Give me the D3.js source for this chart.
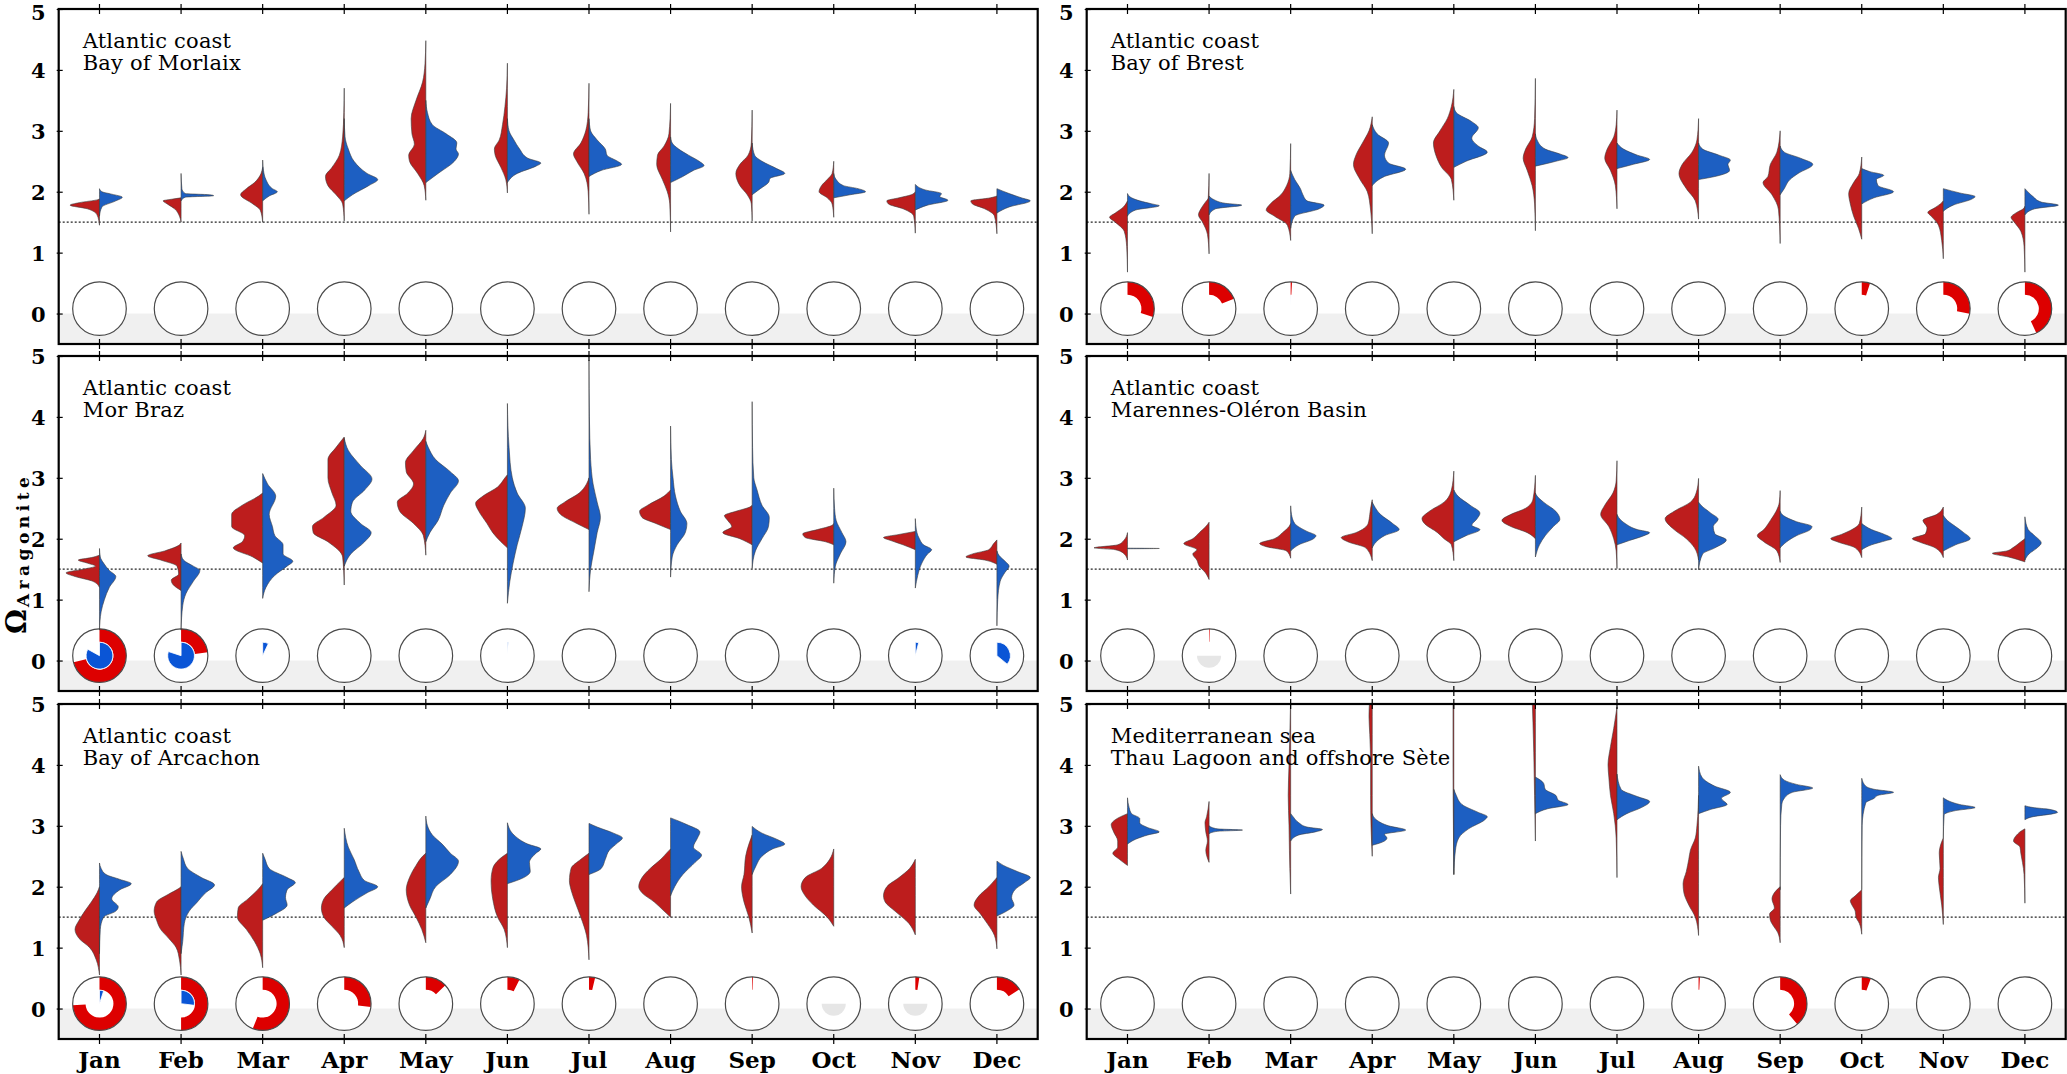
<!DOCTYPE html>
<html>
<head>
<meta charset="utf-8">
<script src="https://cdn.jsdelivr.net/npm/d3@7"></script>
<style>
  body { margin: 0; background: #fff; }
  text { font-family: "DejaVu Serif", serif; }
</style>
</head>
<body>
<svg id="chart" width="2067" height="1074"></svg>
<script>
var months = ["Jan","Feb","Mar","Apr","May","Jun","Jul","Aug","Sep","Oct","Nov","Dec"];
var yTicks = [0, 1, 2, 3, 4, 5];
var threshold = 1.5;

// half violins: [omega, half width in month units] knots
var morlaixRed = [
  [[1.45,0],[1.62,0.03],[1.72,0.15],[1.78,0.36],[1.82,0.25],[1.87,0.02],[1.88,0]],
  [[1.5,0],[1.6,0.02],[1.72,0.08],[1.8,0.17],[1.85,0.22],[1.88,0.1],[1.9,0]],
  [[1.5,0],[1.7,0.03],[1.8,0.12],[1.95,0.27],[2.05,0.2],[2.15,0.1],[2.3,0.02],[2.4,0]],
  [[1.52,0],[1.8,0.02],[1.95,0.1],[2.1,0.2],[2.25,0.23],[2.4,0.15],[2.6,0.06],[2.9,0.02],[3.3,0.005],[3.7,0]],
  [[1.86,0],[2.1,0.02],[2.3,0.1],[2.5,0.2],[2.6,0.21],[2.78,0.14],[2.95,0.17],[3.2,0.18],[3.5,0.12],[3.8,0.04],[4.1,0.01],[4.48,0]],
  [[1.98,0],[2.2,0.02],[2.4,0.08],[2.6,0.15],[2.7,0.16],[2.85,0.1],[3.1,0.06],[3.4,0.03],[3.7,0.01],[4.11,0]],
  [[1.63,0],[2.0,0.01],[2.3,0.06],[2.5,0.15],[2.62,0.19],[2.8,0.1],[3.0,0.04],[3.3,0.01],[3.78,0]],
  [[1.34,0],[1.8,0.01],[2.0,0.04],[2.2,0.1],[2.45,0.17],[2.6,0.16],[2.75,0.08],[2.95,0.02],[3.45,0]],
  [[1.52,0],[1.8,0.01],[1.95,0.06],[2.1,0.15],[2.3,0.2],[2.45,0.15],[2.6,0.05],[2.8,0.01],[3.34,0]],
  [[1.58,0],[1.8,0.02],[1.9,0.08],[2.0,0.18],[2.1,0.15],[2.2,0.08],[2.3,0.02],[2.5,0]],
  [[1.32,0],[1.6,0.02],[1.72,0.15],[1.8,0.33],[1.85,0.35],[1.9,0.2],[1.95,0.05],[2.0,0]],
  [[1.31,0],[1.6,0.03],[1.72,0.15],[1.8,0.3],[1.85,0.32],[1.9,0.08],[1.93,0]]
];
var morlaixBlue = [
  [[1.6,0],[1.75,0.03],[1.85,0.2],[1.91,0.28],[1.96,0.15],[2.0,0.03],[2.05,0]],
  [[1.85,0],[1.91,0.05],[1.935,0.4],[1.95,0.35],[1.97,0.05],[2.05,0.01],[2.3,0]],
  [[1.85,0],[1.93,0.08],[2.0,0.18],[2.05,0.12],[2.2,0.04],[2.35,0.01],[2.52,0]],
  [[1.85,0],[1.95,0.1],[2.1,0.3],[2.2,0.41],[2.3,0.28],[2.5,0.12],[2.7,0.05],[2.9,0.01],[3.2,0]],
  [[2.15,0],[2.3,0.15],[2.5,0.35],[2.62,0.4],[2.7,0.37],[2.8,0.38],[2.95,0.25],[3.1,0.08],[3.3,0.02],[3.5,0]],
  [[2.15,0],[2.3,0.12],[2.42,0.35],[2.47,0.41],[2.55,0.25],[2.7,0.15],[2.85,0.08],[3.0,0.02],[3.2,0]],
  [[2.25,0],[2.35,0.15],[2.45,0.4],[2.5,0.35],[2.6,0.22],[2.7,0.2],[2.85,0.1],[3.0,0.02],[3.2,0]],
  [[2.15,0],[2.25,0.15],[2.35,0.28],[2.43,0.41],[2.5,0.35],[2.6,0.22],[2.7,0.1],[2.8,0.02],[2.9,0]],
  [[1.95,0],[2.05,0.1],[2.15,0.2],[2.22,0.22],[2.3,0.4],[2.38,0.3],[2.5,0.12],[2.6,0.03],[2.8,0]],
  [[1.9,0],[1.95,0.2],[2.0,0.39],[2.05,0.3],[2.1,0.12],[2.2,0.03],[2.3,0]],
  [[1.7,0],[1.78,0.15],[1.86,0.4],[1.92,0.3],[1.97,0.32],[2.03,0.12],[2.12,0]],
  [[1.65,0],[1.75,0.15],[1.85,0.41],[1.9,0.3],[1.97,0.15],[2.05,0]]
];

var brestRed = [
  [[0.68,0],[1.1,0.01],[1.35,0.04],[1.5,0.15],[1.58,0.22],[1.65,0.15],[1.75,0.05],[1.85,0]],
  [[0.98,0],[1.3,0.02],[1.5,0.08],[1.62,0.13],[1.72,0.1],[1.82,0.05],[1.9,0.01],[2.3,0]],
  [[1.2,0],[1.45,0.04],[1.6,0.2],[1.7,0.3],[1.8,0.25],[1.95,0.12],[2.1,0.05],[2.3,0.01],[2.79,0]],
  [[1.31,0],[1.7,0.02],[2.0,0.06],[2.2,0.15],[2.45,0.23],[2.6,0.2],[2.8,0.12],[3.0,0.04],[3.23,0]],
  [[1.86,0],[2.2,0.03],[2.4,0.15],[2.6,0.22],[2.8,0.25],[3.0,0.17],[3.2,0.08],[3.4,0.03],[3.68,0]],
  [[1.36,0],[1.8,0.01],[2.1,0.04],[2.35,0.1],[2.55,0.15],[2.7,0.12],[2.9,0.04],[3.2,0.01],[3.86,0]],
  [[1.72,0],[2.1,0.02],[2.35,0.08],[2.55,0.15],[2.7,0.12],[2.9,0.04],[3.1,0.01],[3.34,0]],
  [[1.55,0],[1.85,0.04],[2.05,0.15],[2.3,0.24],[2.45,0.2],[2.65,0.08],[2.85,0.02],[3.2,0]],
  [[1.15,0],[1.7,0.02],[1.95,0.1],[2.15,0.21],[2.25,0.15],[2.45,0.12],[2.65,0.04],[3.0,0]],
  [[1.22,0],[1.4,0.04],[1.6,0.1],[1.8,0.14],[1.97,0.16],[2.15,0.1],[2.3,0.03],[2.57,0]],
  [[0.9,0],[1.2,0.02],[1.45,0.06],[1.6,0.15],[1.66,0.19],[1.74,0.1],[1.82,0.02],[1.85,0]],
  [[0.68,0],[1.1,0.01],[1.35,0.05],[1.5,0.13],[1.58,0.17],[1.66,0.1],[1.72,0.02],[1.76,0]]
];
var brestBlue = [
  [[1.6,0],[1.7,0.1],[1.77,0.39],[1.8,0.3],[1.85,0.15],[1.9,0.05],[1.97,0]],
  [[1.62,0],[1.72,0.08],[1.78,0.4],[1.81,0.2],[1.87,0.06],[1.93,0]],
  [[1.4,0],[1.6,0.05],[1.72,0.35],[1.78,0.41],[1.85,0.2],[1.95,0.15],[2.05,0.12],[2.2,0.05],[2.35,0]],
  [[2.1,0],[2.25,0.15],[2.37,0.41],[2.47,0.2],[2.6,0.15],[2.8,0.2],[2.95,0.06],[3.1,0]],
  [[2.4,0],[2.5,0.15],[2.65,0.41],[2.75,0.3],[2.88,0.22],[3.05,0.3],[3.15,0.22],[3.3,0.03],[3.4,0]],
  [[2.42,0],[2.5,0.25],[2.56,0.4],[2.62,0.3],[2.7,0.12],[2.85,0.02],[2.95,0]],
  [[2.38,0],[2.45,0.2],[2.53,0.4],[2.6,0.25],[2.7,0.08],[2.8,0]],
  [[2.2,0],[2.25,0.2],[2.35,0.38],[2.45,0.36],[2.52,0.39],[2.6,0.25],[2.7,0.05],[2.8,0]],
  [[1.95,0],[2.05,0.05],[2.2,0.12],[2.3,0.22],[2.45,0.4],[2.55,0.25],[2.65,0.05],[2.75,0]],
  [[1.8,0],[1.9,0.15],[2.0,0.39],[2.1,0.2],[2.2,0.18],[2.27,0.27],[2.33,0.1],[2.38,0]],
  [[1.68,0],[1.78,0.12],[1.88,0.35],[1.92,0.39],[1.98,0.2],[2.05,0]],
  [[1.62,0],[1.72,0.12],[1.78,0.41],[1.83,0.2],[1.92,0.1],[1.98,0.05],[2.05,0]]
];

var morbrazRed = [
  [[1.2,0],[1.3,0.08],[1.38,0.3],[1.44,0.41],[1.5,0.2],[1.55,0.05],[1.6,0.15],[1.65,0.26],[1.69,0.1],[1.73,0]],
  [[1.15,0],[1.25,0.1],[1.32,0.12],[1.42,0.03],[1.55,0.05],[1.65,0.25],[1.72,0.41],[1.8,0.2],[1.9,0.02],[1.93,0]],
  [[1.6,0],[1.7,0.12],[1.85,0.36],[1.95,0.25],[2.05,0.22],[2.2,0.38],[2.4,0.38],[2.55,0.25],[2.7,0.05],[2.75,0]],
  [[1.24,0],[1.7,0.02],[1.95,0.2],[2.1,0.38],[2.2,0.39],[2.35,0.25],[2.55,0.1],[2.75,0.15],[3.0,0.2],[3.3,0.2],[3.5,0.1],[3.67,0]],
  [[1.73,0],[2.05,0.03],[2.25,0.15],[2.45,0.32],[2.6,0.35],[2.75,0.22],[2.9,0.15],[3.1,0.24],[3.25,0.25],[3.45,0.15],[3.65,0.03],[3.78,0]],
  [[1.85,0],[1.95,0.08],[2.1,0.18],[2.25,0.25],[2.45,0.35],[2.58,0.39],[2.7,0.3],[2.85,0.12],[3.0,0.03],[3.05,0]],
  [[2.15,0],[2.25,0.15],[2.4,0.35],[2.5,0.39],[2.6,0.3],[2.75,0.12],[2.9,0.03],[3.0,0]],
  [[2.15,0],[2.25,0.18],[2.35,0.35],[2.45,0.38],[2.55,0.28],[2.7,0.08],[2.8,0]],
  [[1.9,0],[2.0,0.15],[2.1,0.36],[2.2,0.25],[2.3,0.3],[2.38,0.34],[2.45,0.2],[2.52,0.03],[2.55,0]],
  [[1.9,0],[1.95,0.1],[2.02,0.35],[2.08,0.38],[2.15,0.2],[2.22,0.02],[2.25,0]],
  [[1.82,0],[1.9,0.15],[1.97,0.3],[2.02,0.39],[2.07,0.2],[2.12,0]],
  [[1.58,0],[1.65,0.15],[1.7,0.38],[1.75,0.3],[1.82,0.1],[1.92,0.04],[1.98,0]]
];
var morbrazBlue = [
  [[0.5,0],[0.8,0.02],[1.0,0.06],[1.2,0.12],[1.38,0.2],[1.48,0.12],[1.6,0.05],[1.7,0.01],[1.84,0]],
  [[0.5,0],[0.9,0.02],[1.1,0.06],[1.3,0.15],[1.48,0.23],[1.55,0.15],[1.65,0.03],[1.75,0]],
  [[1.02,0],[1.2,0.04],[1.4,0.15],[1.55,0.3],[1.63,0.37],[1.75,0.25],[1.9,0.25],[2.05,0.15],[2.2,0.12],[2.4,0.08],[2.7,0.16],[2.9,0.06],[3.07,0]],
  [[1.55,0],[1.75,0.08],[1.95,0.25],[2.1,0.33],[2.25,0.2],[2.45,0.08],[2.6,0.1],[2.8,0.25],[2.98,0.34],[3.2,0.2],[3.45,0.05],[3.65,0]],
  [[1.95,0],[2.1,0.05],[2.3,0.15],[2.55,0.22],[2.75,0.3],[2.95,0.4],[3.1,0.3],[3.3,0.12],[3.5,0.03],[3.6,0]],
  [[0.94,0],[1.3,0.03],[1.6,0.07],[1.9,0.12],[2.2,0.18],[2.5,0.22],[2.75,0.12],[3.0,0.06],[3.5,0.02],[4.22,0]],
  [[1.13,0],[1.5,0.02],[1.8,0.06],[2.1,0.1],[2.35,0.14],[2.6,0.1],[2.9,0.05],[3.3,0.02],[4.0,0.005],[4.93,0]],
  [[1.37,0],[1.7,0.02],[1.9,0.08],[2.1,0.18],[2.25,0.2],[2.45,0.12],[2.7,0.06],[3.0,0.03],[3.3,0.01],[3.85,0]],
  [[1.51,0],[1.8,0.04],[2.0,0.12],[2.2,0.2],[2.35,0.21],[2.55,0.12],[2.8,0.06],[3.0,0.02],[3.5,0.005],[4.25,0]],
  [[1.27,0],[1.55,0.02],[1.75,0.08],[1.95,0.15],[2.1,0.1],[2.3,0.03],[2.5,0.01],[2.83,0]],
  [[1.19,0],[1.4,0.03],[1.6,0.08],[1.75,0.15],[1.82,0.2],[1.9,0.1],[2.0,0.05],[2.1,0.02],[2.33,0]],
  [[0.57,0],[1.0,0.01],[1.3,0.04],[1.45,0.1],[1.55,0.15],[1.63,0.1],[1.72,0.03],[1.8,0]]
];

var marennesRed = [
  [[1.65,0],[1.75,0.04],[1.82,0.15],[1.85,0.41],[1.9,0.12],[1.98,0.04],[2.1,0]],
  [[1.33,0],[1.45,0.05],[1.55,0.12],[1.65,0.15],[1.75,0.2],[1.82,0.15],[1.92,0.31],[2.0,0.2],[2.1,0.12],[2.2,0.04],[2.27,0]],
  [[1.68,0],[1.8,0.05],[1.87,0.3],[1.92,0.38],[2.0,0.2],[2.1,0.1],[2.2,0.02],[2.25,0]],
  [[1.64,0],[1.85,0.08],[1.95,0.3],[2.02,0.38],[2.1,0.2],[2.25,0.05],[2.4,0.03],[2.5,0.02],[2.64,0]],
  [[1.64,0],[1.9,0.03],[2.0,0.12],[2.1,0.2],[2.25,0.36],[2.33,0.39],[2.45,0.3],[2.6,0.12],[2.8,0.03],[3.11,0]],
  [[2.0,0],[2.1,0.1],[2.2,0.3],[2.3,0.41],[2.4,0.3],[2.5,0.12],[2.65,0.03],[3.04,0]],
  [[1.51,0],[1.8,0.01],[2.0,0.04],[2.2,0.1],[2.4,0.2],[2.55,0.15],[2.75,0.05],[2.95,0.01],[3.28,0]],
  [[1.65,0],[1.85,0.05],[2.0,0.15],[2.15,0.3],[2.33,0.41],[2.45,0.3],[2.6,0.1],[2.75,0.03],[2.99,0]],
  [[1.61,0],[1.8,0.04],[1.95,0.2],[2.05,0.28],[2.15,0.2],[2.3,0.12],[2.45,0.05],[2.6,0.01],[2.79,0]],
  [[1.69,0],[1.85,0.08],[1.95,0.3],[2.0,0.38],[2.07,0.25],[2.15,0.12],[2.25,0.03],[2.52,0]],
  [[1.69,0],[1.85,0.1],[1.95,0.3],[2.0,0.38],[2.08,0.22],[2.18,0.2],[2.3,0.25],[2.4,0.08],[2.52,0]],
  [[1.62,0],[1.7,0.2],[1.76,0.4],[1.8,0.22],[1.85,0.15],[1.95,0.05],[2.0,0]]
];
var marennesBlue = [
  [[1.835,0],[1.84,0.39],[1.845,0]],
  [],
  [[1.8,0],[1.9,0.1],[2.0,0.28],[2.05,0.31],[2.12,0.2],[2.25,0.05],[2.4,0.01],[2.54,0]],
  [[1.85,0],[1.95,0.05],[2.05,0.15],[2.15,0.33],[2.25,0.25],[2.4,0.1],[2.55,0.02],[2.6,0]],
  [[1.95,0],[2.05,0.15],[2.15,0.32],[2.22,0.22],[2.32,0.28],[2.42,0.32],[2.55,0.2],[2.7,0.05],[2.8,0]],
  [[1.7,0],[1.9,0.05],[2.05,0.12],[2.2,0.22],[2.32,0.3],[2.45,0.25],[2.6,0.1],[2.7,0.02],[2.75,0]],
  [[1.9,0],[1.97,0.15],[2.05,0.33],[2.1,0.4],[2.15,0.25],[2.25,0.1],[2.35,0.02],[2.4,0]],
  [[1.49,0],[1.75,0.05],[1.85,0.2],[1.98,0.34],[2.08,0.2],[2.2,0.18],[2.32,0.24],[2.42,0.15],[2.55,0.03],[2.6,0]],
  [[1.85,0],[1.95,0.08],[2.05,0.2],[2.15,0.37],[2.2,0.39],[2.28,0.2],[2.38,0.04],[2.45,0]],
  [[1.82,0],[1.9,0.12],[1.97,0.3],[2.0,0.37],[2.07,0.28],[2.15,0.12],[2.25,0]],
  [[1.8,0],[1.9,0.15],[2.0,0.33],[2.1,0.25],[2.2,0.15],[2.3,0.05],[2.38,0]],
  [[1.65,0],[1.75,0.05],[1.85,0.15],[1.93,0.2],[2.05,0.12],[2.15,0.04],[2.36,0]]
];

var arcachonRed = [
  [[0.55,0],[0.8,0.04],[1.0,0.12],[1.15,0.25],[1.3,0.3],[1.45,0.25],[1.6,0.18],[1.75,0.1],[1.9,0.03],[2.0,0]],
  [[0.55,0],[0.8,0.02],[1.0,0.06],[1.15,0.15],[1.3,0.25],[1.45,0.3],[1.6,0.33],[1.75,0.3],[1.88,0.15],[1.97,0.03],[2.0,0]],
  [[0.67,0],[0.9,0.03],[1.1,0.1],[1.3,0.2],[1.5,0.31],[1.65,0.3],[1.8,0.18],[1.95,0.06],[2.05,0]],
  [[1.0,0],[1.2,0.05],[1.35,0.15],[1.5,0.25],[1.65,0.28],[1.8,0.25],[1.95,0.15],[2.1,0.04],[2.15,0]],
  [[1.08,0],[1.3,0.05],[1.5,0.12],[1.7,0.2],[1.95,0.24],[2.15,0.2],[2.35,0.12],[2.5,0.04],[2.55,0]],
  [[1.0,0],[1.3,0.04],[1.5,0.12],[1.8,0.18],[2.1,0.2],[2.3,0.18],[2.45,0.1],[2.55,0]],
  [[0.8,0],[1.2,0.03],[1.5,0.1],[1.75,0.17],[1.95,0.22],[2.1,0.24],[2.3,0.22],[2.45,0.1],[2.55,0]],
  [[1.5,0],[1.6,0.08],[1.75,0.2],[1.9,0.35],[2.0,0.39],[2.15,0.35],[2.3,0.25],[2.45,0.12],[2.58,0.03],[2.62,0]],
  [[1.24,0],[1.5,0.04],[1.75,0.1],[2.0,0.13],[2.2,0.1],[2.5,0.08],[2.7,0.04],[2.85,0]],
  [[1.35,0],[1.5,0.08],[1.7,0.25],[1.85,0.35],[2.0,0.4],[2.15,0.35],[2.3,0.15],[2.45,0.05],[2.62,0]],
  [[1.21,0],[1.4,0.08],[1.6,0.25],[1.75,0.37],[1.85,0.39],[2.0,0.35],[2.15,0.2],[2.3,0.07],[2.45,0]],
  [[0.98,0],[1.2,0.03],[1.4,0.12],[1.55,0.2],[1.7,0.28],[1.85,0.22],[2.0,0.1],[2.12,0.02],[2.15,0]]
];
var arcachonBlue = [
  [[0.9,0],[1.3,0.01],[1.5,0.05],[1.6,0.2],[1.67,0.23],[1.8,0.15],[1.95,0.25],[2.05,0.39],[2.12,0.25],[2.2,0.08],[2.3,0.02],[2.39,0]],
  [[0.9,0],[1.1,0.02],[1.4,0.04],[1.6,0.1],[1.75,0.2],[1.9,0.3],[2.03,0.41],[2.15,0.25],[2.3,0.08],[2.45,0.03],[2.58,0]],
  [[1.45,0],[1.55,0.15],[1.7,0.3],[1.82,0.28],[1.95,0.3],[2.07,0.4],[2.15,0.3],[2.3,0.08],[2.45,0.03],[2.55,0]],
  [[1.65,0],[1.75,0.1],[1.9,0.28],[2.0,0.41],[2.1,0.25],[2.25,0.18],[2.45,0.12],[2.65,0.05],[2.96,0]],
  [[1.65,0],[1.8,0.05],[2.0,0.12],[2.2,0.3],[2.42,0.4],[2.55,0.3],[2.7,0.2],[2.85,0.08],[3.0,0.02],[3.16,0]],
  [[2.05,0],[2.15,0.2],[2.25,0.28],[2.4,0.27],[2.55,0.35],[2.62,0.41],[2.7,0.25],[2.85,0.08],[3.05,0]],
  [[2.2,0],[2.3,0.15],[2.45,0.2],[2.6,0.25],[2.72,0.35],[2.8,0.41],[2.88,0.3],[2.98,0.1],[3.04,0]],
  [[1.85,0],[2.0,0.05],[2.2,0.15],[2.4,0.3],[2.52,0.38],[2.65,0.28],[2.8,0.33],[2.9,0.36],[3.02,0.2],[3.13,0]],
  [[2.2,0],[2.35,0.05],[2.5,0.12],[2.62,0.25],[2.7,0.4],[2.78,0.3],[2.88,0.12],[2.99,0]],
  [],
  [],
  [[1.52,0],[1.6,0.12],[1.7,0.21],[1.82,0.18],[1.95,0.22],[2.08,0.35],[2.15,0.41],[2.25,0.25],[2.35,0.08],[2.42,0]]
];

var thauRed = [
  [[2.35,0],[2.45,0.1],[2.55,0.18],[2.65,0.12],[2.75,0.12],[2.9,0.17],[3.02,0.2],[3.1,0.15],[3.2,0]],
  [[2.4,0],[2.6,0.04],[2.75,0.02],[2.9,0.04],[3.05,0.05],[3.15,0.03],[3.4,0]],
  [[1.88,0],[2.3,0.01],[2.6,0.015],[3.0,0.02],[3.5,0.03],[4.0,0.02],[4.5,0.01],[5.1,0]],
  [[2.5,0],[3.0,0.015],[3.5,0.02],[4.0,0.02],[4.5,0.03],[4.8,0.04],[5.1,0.03]],
  [[2.2,0],[3.0,0.005],[4.0,0.01],[5.1,0.01]],
  [[2.75,0],[3.5,0.01],[4.2,0.02],[4.7,0.03],[5.1,0.04]],
  [[2.15,0],[2.8,0.01],[3.2,0.04],[3.5,0.08],[3.8,0.1],[4.0,0.11],[4.3,0.08],[4.6,0.04],[4.95,0]],
  [[1.2,0],[1.5,0.04],[1.7,0.12],[1.9,0.18],[2.05,0.19],[2.25,0.15],[2.45,0.12],[2.6,0.1],[2.8,0.04],[3.0,0.02],[3.3,0.005],[3.5,0]],
  [[1.08,0],[1.25,0.03],[1.35,0.08],[1.45,0.12],[1.55,0.13],[1.65,0.07],[1.8,0.1],[1.92,0.06],[2.0,0]],
  [[1.22,0],[1.4,0.03],[1.5,0.07],[1.6,0.08],[1.7,0.12],[1.77,0.14],[1.85,0.08],[1.95,0]],
  [[1.38,0],[1.7,0.02],[2.0,0.05],[2.15,0.06],[2.3,0.04],[2.55,0.05],[2.7,0.03],[2.8,0]],
  [[1.73,0],[2.2,0.01],[2.4,0.03],[2.55,0.05],[2.65,0.06],[2.75,0.14],[2.85,0.1],[2.92,0.04],[2.95,0]]
];
var thauBlue = [
  [[2.7,0],[2.78,0.1],[2.85,0.25],[2.9,0.39],[2.97,0.25],[3.05,0.15],[3.12,0.15],[3.2,0.05],[3.3,0.02],[3.46,0]],
  [[2.87,0],[2.91,0.1],[2.93,0.41],[2.95,0.1],[3.0,0]],
  [[2.75,0],[2.85,0.1],[2.9,0.3],[2.94,0.39],[2.98,0.2],[3.05,0.1],[3.15,0.03],[3.2,0]],
  [[2.68,0],[2.75,0.15],[2.8,0.18],[2.86,0.15],[2.93,0.41],[3.0,0.2],[3.1,0.05],[3.2,0]],
  [[2.2,0],[2.6,0.02],[2.8,0.06],[2.95,0.18],[3.1,0.38],[3.15,0.41],[3.22,0.3],[3.35,0.1],[3.5,0.03],[3.6,0]],
  [[3.2,0],[3.28,0.15],[3.35,0.4],[3.42,0.28],[3.5,0.25],[3.6,0.12],[3.7,0.1],[3.8,0]],
  [[3.1,0],[3.2,0.12],[3.3,0.3],[3.4,0.4],[3.48,0.25],[3.6,0.05],[3.85,0]],
  [[3.2,0],[3.27,0.15],[3.35,0.35],[3.45,0.28],[3.55,0.39],[3.65,0.2],[3.8,0.04],[3.98,0]],
  [[1.95,0],[3.0,0.005],[3.35,0.02],[3.45,0.05],[3.55,0.15],[3.62,0.4],[3.68,0.2],[3.75,0.05],[3.84,0]],
  [[1.95,0],[3.0,0.005],[3.38,0.05],[3.45,0.15],[3.5,0.2],[3.55,0.39],[3.6,0.15],[3.65,0.05],[3.78,0]],
  [[2.8,0],[3.18,0.01],[3.25,0.15],[3.3,0.39],[3.35,0.2],[3.4,0.08],[3.46,0]],
  [[3.1,0],[3.15,0.1],[3.2,0.35],[3.22,0.4],[3.27,0.3],[3.3,0.1],[3.33,0]]
];

// share of samples below the threshold (outer ring red, inner pie blue)
var morlaixPieRed  = [0,0,0,0,0,0,0,0,0,0,0,0];
var morlaixPieBlue = [0,0,0,0,0,0,0,0,0,0,0,0];
var brestPieRed    = [0.30,0.19,0.008,0,0,0,0,0,0,0.05,0.28,0.43];
var brestPieBlue   = [0,0,0.003,0,0,0,0,0,0,0,0,0];
var morbrazPieRed  = [0.71,0.23,0,0,0,0,0,0,0,0,0,0];
var morbrazPieBlue = [0.83,0.80,0.07,0,0,0.01,0,0,0,0,0.04,0.36];
var marennesPieRed = [0,0.004,0,0,0,0,0,0,0,0,0,0];
var marennesPieBlue= [0,0,0,0,0,0,0,0,0,0,0,0];
var arcachonPieRed = [0.74,0.5,0.56,0.27,0.13,0.074,0.037,0,0.005,0,0.024,0.16];
var arcachonPieBlue= [0.05,0.27,0,0,0,0,0,0,0,0,0,0];
var thauPieRed     = [0,0,0,0,0,0,0,0.008,0.39,0.055,0,0];
var thauPieBlue    = [0,0,0,0,0,0,0,0,0,0,0,0];
// months with no blue samples at all (grey half disc)
var marennesNoData = ["Feb"];
var arcachonNoData = ["Oct","Nov"];

var panels = [
  {lines:["Atlantic coast","Bay of Morlaix"], red:morlaixRed, blue:morlaixBlue, pieRed:morlaixPieRed, pieBlue:morlaixPieBlue, noData:[]},
  {lines:["Atlantic coast","Bay of Brest"], red:brestRed, blue:brestBlue, pieRed:brestPieRed, pieBlue:brestPieBlue, noData:[]},
  {lines:["Atlantic coast","Mor Braz"], red:morbrazRed, blue:morbrazBlue, pieRed:morbrazPieRed, pieBlue:morbrazPieBlue, noData:[]},
  {lines:["Atlantic coast","Marennes-Oléron Basin"], red:marennesRed, blue:marennesBlue, pieRed:marennesPieRed, pieBlue:marennesPieBlue, noData:marennesNoData},
  {lines:["Atlantic coast","Bay of Arcachon"], red:arcachonRed, blue:arcachonBlue, pieRed:arcachonPieRed, pieBlue:arcachonPieBlue, noData:arcachonNoData},
  {lines:["Mediterranean sea","Thau Lagoon and offshore Sète"], red:thauRed, blue:thauBlue, pieRed:thauPieRed, pieBlue:thauPieBlue, noData:[]}
];

var svg = d3.select("#chart");
var colLeft = [58.7, 1086.7], panelW = 979;
var rowTop = [9, 356, 704], panelH = 335;
var violinRed = "#bd1d1d", violinBlue = "#1d5fc2";
var ringRed = "#dd0000", pieBlueCol = "#0a55d6";

panels.forEach(function(p, i) {
  var col = i % 2, row = Math.floor(i / 2);
  var x0 = colLeft[col], y0 = rowTop[row];
  var g = svg.append("g").attr("transform", "translate(" + x0 + "," + y0 + ")");

  var x = d3.scaleBand().domain(months).range([0, panelW]).padding(0);
  var bw = x.bandwidth();
  var y = d3.scaleLinear().domain([-0.5, 5]).range([panelH, 0]);
  function cx(m) { return x(m) + bw / 2; }

  g.append("clipPath").attr("id", "clip" + i)
    .append("rect").attr("width", panelW).attr("height", panelH);

  var plot = g.append("g").attr("clip-path", "url(#clip" + i + ")");
  plot.append("rect").attr("width", panelW).attr("height", panelH).attr("fill", "#fff");
  plot.append("rect").attr("y", y(0)).attr("width", panelW).attr("height", y(-0.5) - y(0)).attr("fill", "#f0f0f0");

  plot.append("line")
    .attr("x1", 0).attr("x2", panelW)
    .attr("y1", y(threshold)).attr("y2", y(threshold))
    .attr("stroke", "#222").attr("stroke-width", 1.3).attr("stroke-dasharray", "2,2");

  // pies
  var R = y(0.08) - y(0.52);
  var arc = d3.arc();
  months.forEach(function(m, k) {
    var pg = plot.append("g").attr("transform", "translate(" + cx(m) + "," + y(0.08) + ")");
    pg.append("circle").attr("r", R).attr("fill", "#fff");
    if (p.noData.indexOf(m) >= 0) {
      pg.append("path").attr("fill", "#e6e6e6")
        .attr("d", arc({innerRadius: 0, outerRadius: 0.45 * R, startAngle: Math.PI / 2, endAngle: Math.PI * 1.5}));
    }
    if (p.pieRed[k] > 0) {
      pg.append("path").attr("fill", ringRed)
        .attr("d", arc({innerRadius: 0.52 * R, outerRadius: R, startAngle: 0, endAngle: 2 * Math.PI * p.pieRed[k]}));
    }
    if (p.pieBlue[k] > 0) {
      pg.append("path").attr("fill", pieBlueCol).attr("stroke", "#fff").attr("stroke-width", 0.8)
        .attr("d", arc({innerRadius: 0, outerRadius: 0.5 * R, startAngle: 0, endAngle: 2 * Math.PI * p.pieBlue[k]}));
    }
    pg.append("circle").attr("r", R).attr("fill", "none").attr("stroke", "#4a4a4a").attr("stroke-width", 1.2);
  });

  // split violins
  function half(knots, c, side, color) {
    if (!knots.length) return;
    var area = d3.area().curve(d3.curveMonotoneY)
      .y(function(d) { return y(d[0]); })
      .x0(c)
      .x1(function(d) { return c + side * d[1] * bw; });
    plot.append("path").attr("d", area(knots))
      .attr("fill", color).attr("stroke", "#3a3a3a").attr("stroke-width", 0.6);
  }
  months.forEach(function(m, k) {
    half(p.red[k], cx(m), -1, violinRed);
    half(p.blue[k], cx(m), 1, violinBlue);
  });

  // frame and ticks
  g.append("rect").attr("width", panelW).attr("height", panelH)
    .attr("fill", "none").attr("stroke", "#000").attr("stroke-width", 2.2);

  var yAxis = d3.axisLeft(y).tickValues(yTicks).tickSize(5).tickPadding(8).tickFormat(d3.format("d"));
  var ya = g.append("g").call(yAxis);
  ya.select(".domain").remove();
  ya.selectAll(".tick line").attr("x2", 4).attr("x1", -2).attr("stroke-width", 1.2);
  ya.selectAll(".tick text").attr("font-family", "DejaVu Serif").attr("font-weight", "bold")
    .attr("font-size", 21).attr("fill", "#000").attr("dy", "0.36em");
  // keep the top label inside the picture
  ya.selectAll(".tick text").filter(function(d) { return d === 5 && row === 0; }).attr("dy", "0.5em");

  months.forEach(function(m) {
    [0, panelH].forEach(function(yy) {
      g.append("line").attr("x1", cx(m)).attr("x2", cx(m)).attr("y1", yy - 5).attr("y2", yy + 5)
        .attr("stroke", "#000").attr("stroke-width", 1.2);
    });
  });

  if (row === 2) {
    g.selectAll(".month").data(months).enter().append("text")
      .attr("x", cx).attr("y", panelH + 29)
      .attr("text-anchor", "middle").attr("font-weight", "bold").attr("font-size", 23)
      .text(function(d) { return d; });
  }

  p.lines.forEach(function(t, j) {
    g.append("text").attr("x", 24).attr("y", 39 + j * 22)
      .attr("font-size", 21).attr("letter-spacing", 0.2).text(t);
  });
});

// y axis title
var yt = svg.append("text").attr("transform", "translate(26,634) rotate(-90)")
  .attr("text-anchor", "start").attr("font-weight", "bold");
yt.append("tspan").attr("font-size", 28).text("Ω");
yt.append("tspan").attr("font-size", 17).attr("dx", 2).attr("dy", 3)
  .attr("letter-spacing", 4.5).text("Aragonite");
</script>
</body>
</html>
